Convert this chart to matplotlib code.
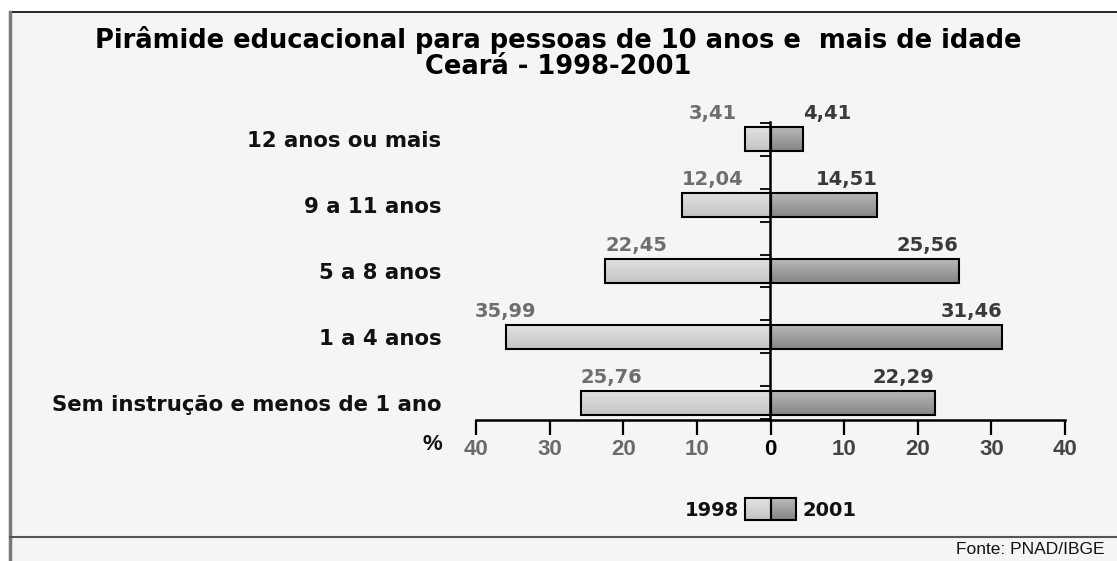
import numpy as np
import matplotlib
matplotlib.use('Agg')
import matplotlib.pyplot as plt
from matplotlib.patches import Rectangle
from matplotlib.lines import Line2D
from matplotlib.colors import LinearSegmentedColormap

# ---------------- data ----------------
categories = ["12 anos ou mais", "9 a 11 anos", "5 a 8 anos", "1 a 4 anos",
              "Sem instrução e menos de 1 ano"]
values_1998 = [3.41, 12.04, 22.45, 35.99, 25.76]
values_2001 = [4.41, 14.51, 25.56, 31.46, 22.29]
labels_1998 = ["3,41", "12,04", "22,45", "35,99", "25,76"]
labels_2001 = ["4,41", "14,51", "25,56", "31,46", "22,29"]
xticks = [-40, -30, -20, -10, 0, 10, 20, 30, 40]
series_names = ["1998", "2001"]
title = "Pirâmide educacional para pessoas de 10 anos e  mais de idade\nCeará - 1998-2001"
source = "Fonte: PNAD/IBGE"

# label alignment (style)
ha_1998 = ["right", "left", "left", "center", "left"]
ha_2001 = ["left", "right", "right", "right", "right"]

W, H = 1117, 561
fig = plt.figure(figsize=(W / 100, H / 100), dpi=100)
fig.patch.set_facecolor('white')


def fx(px):
    return px / W


def fy(py):
    return 1 - py / H


BOLD = 'DejaVu Sans'
ARIAL = 'Liberation Sans'

# frame / background
fig.patches.append(Rectangle((fx(10), 0), 1 - fx(10), fy(12), transform=fig.transFigure,
                             facecolor='#f5f5f5', edgecolor='none', zorder=-10))
fig.lines.append(Line2D([fx(10), 1], [fy(12), fy(12)], transform=fig.transFigure,
                        color='black', lw=1.2, zorder=-5))
fig.lines.append(Line2D([fx(10), fx(10)], [0, fy(12)], transform=fig.transFigure,
                        color='#7a7a7a', lw=2.5, zorder=-5))
fig.lines.append(Line2D([fx(10), 1], [fy(537), fy(537)], transform=fig.transFigure,
                        color='#555555', lw=1.5, zorder=-5))

fig.text(0.5, fy(53), title, ha='center', va='center', fontsize=18.5,
         fontweight='bold', family=BOLD, linespacing=1.05, color='black')
fig.text(fx(1105), fy(550), source, ha='right', va='center', fontsize=12.5,
         family=ARIAL, color='#111111')

cmap_1998 = LinearSegmentedColormap.from_list('c98', ['#c3c3c3', '#e3e3e3'])
cmap_2001 = LinearSegmentedColormap.from_list('c01', ['#858585', '#bbbbbb'])


def fill_gradient(axx, bars, cmap):
    grad = np.linspace(0, 1, 64).reshape(-1, 1)
    for b in bars:
        x0 = b.get_x()
        w = b.get_width()
        y0 = b.get_y()
        h = b.get_height()
        xa, xb = sorted([x0, x0 + w])
        axx.imshow(grad, extent=[xa, xb, y0, y0 + h], origin='lower', cmap=cmap,
                   aspect='auto', zorder=2, interpolation='bilinear')
        b.set_facecolor('none')
        b.set_zorder(3)


ax = fig.add_axes([fx(476), fy(420), fx(1065) - fx(476), fy(122) - fy(420)])
ax.set_facecolor('none')

n = len(categories)
pos = [n - 1 - i for i in range(n)]
bh = 0.365

b98 = ax.barh(pos, [-v for v in values_1998], height=bh, edgecolor='black', linewidth=1.5)
b01 = ax.barh(pos, values_2001, height=bh, edgecolor='black', linewidth=1.5)
fill_gradient(ax, b98, cmap_1998)
fill_gradient(ax, b01, cmap_2001)

for p, v, lab, ha in zip(pos, values_1998, labels_1998, ha_1998):
    dx = -6 if ha == 'right' else 0
    ax.annotate(lab, (-v, p + bh / 2), xytext=(dx, 3), textcoords='offset points',
                ha=ha, va='bottom', fontsize=14, fontweight='bold', family=BOLD,
                color='#6e6e6e')
for p, v, lab, ha in zip(pos, values_2001, labels_2001, ha_2001):
    ax.annotate(lab, (v, p + bh / 2), xytext=(0, 3), textcoords='offset points',
                ha=ha, va='bottom', fontsize=14, fontweight='bold', family=BOLD,
                color='#3a3a3a')

ax.set_xlim(-40, 40)
ax.set_ylim(-0.26, n - 1 + 0.26)

for s in ['left', 'right', 'top']:
    ax.spines[s].set_visible(False)
ax.spines['bottom'].set_linewidth(1.8)

ax.set_xticks(xticks)
ax.set_xticklabels([str(abs(t)) for t in xticks])
ax.tick_params(axis='x', direction='out', length=11, width=1.6, pad=3)
for t, lab in zip(xticks, ax.get_xticklabels()):
    lab.set_fontfamily(ARIAL)
    lab.set_fontweight('bold')
    lab.set_fontsize(16)
    lab.set_color('#6a6a6a' if t < 0 else ('black' if t == 0 else '#444444'))

ax.set_yticks(pos)
ax.set_yticklabels(categories)
ax.tick_params(axis='y', length=0, pad=25)
for lab in ax.get_yticklabels():
    lab.set_fontfamily(BOLD)
    lab.set_fontweight('bold')
    lab.set_fontsize(15.3)
    lab.set_color('#111111')

ax.text(fx(442), fy(445), '%', transform=fig.transFigure, ha='right', va='center',
        fontsize=16, fontweight='bold', family=ARIAL, color='#111111')

# central axis with small ticks
sec = ax.secondary_yaxis(0.5)
sec.set_alignment('left')
minor = sorted([p + d for p in pos for d in (-0.25, 0.25)])
sec.set_yticks(minor)
sec.tick_params(axis='y', direction='out', length=7, width=1.3, labelleft=False,
                labelright=False)
sec.spines['left'].set_linewidth(1.8)
sec.set_zorder(4)

# legend
lax = fig.add_axes([fx(745), fy(520), fx(796) - fx(745), fy(498) - fy(520)])
lax.set_facecolor('none')
lb1 = lax.bar([0.5], [1], width=1, bottom=0, edgecolor='black', linewidth=1.5)
lb2 = lax.bar([1.5], [1], width=1, bottom=0, edgecolor='black', linewidth=1.5)
lax.axis('off')
lb1[0].set_clip_on(False)
lb2[0].set_clip_on(False)
grad = np.linspace(0, 1, 32).reshape(-1, 1)
lax.imshow(grad, extent=[0, 1, 0, 1], origin='lower', cmap=cmap_1998, aspect='auto', zorder=2)
lax.imshow(grad, extent=[1, 2, 0, 1], origin='lower', cmap=cmap_2001, aspect='auto', zorder=2)
lb1[0].set_facecolor('none'); lb1[0].set_zorder(3)
lb2[0].set_facecolor('none'); lb2[0].set_zorder(3)
lax.set_xlim(0, 2)
lax.set_ylim(0, 1)

fig.text(fx(739), fy(510), series_names[0], ha='right', va='center', fontsize=14,
         fontweight='bold', family=BOLD, color='#111111')
fig.text(fx(803), fy(510), series_names[1], ha='left', va='center', fontsize=14,
         fontweight='bold', family=BOLD, color='#111111')

fig.savefig('out.png', dpi=100, facecolor=fig.get_facecolor())
